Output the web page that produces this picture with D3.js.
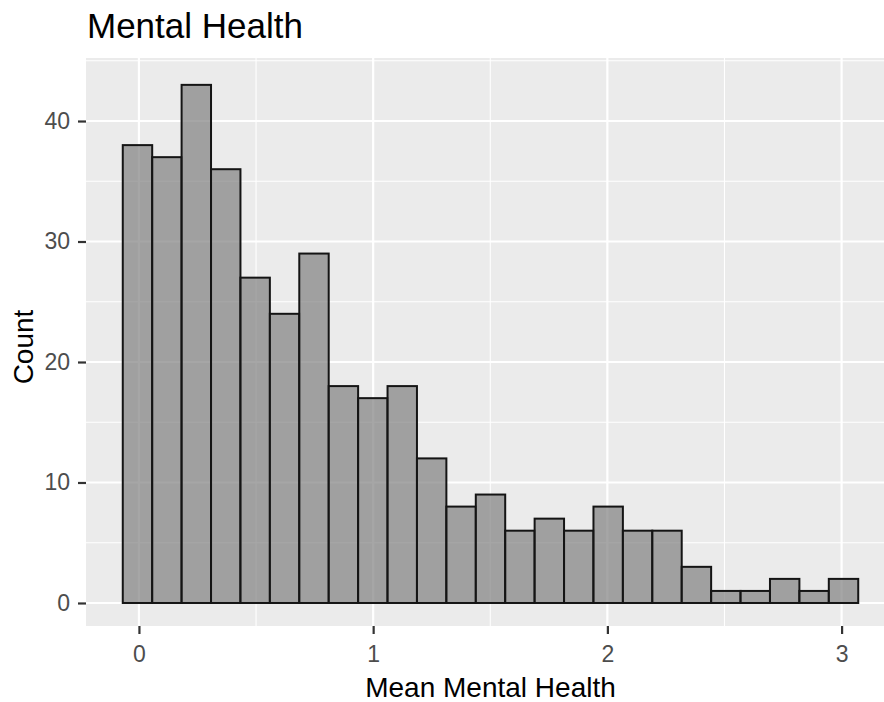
<!DOCTYPE html>
<html>
<head>
<meta charset="utf-8">
<script src="https://cdn.jsdelivr.net/npm/d3@7"></script>
<style>
  html, body { margin: 0; padding: 0; background: #fff; }
  svg { display: block; font-family: "Liberation Sans", Arial, sans-serif; }
</style>
</head>
<body>
<svg id="chart" width="884" height="702"></svg>
<script>
// ---- data ----
const title = "Mental Health";
const xLabel = "Mean Mental Health";
const yLabel = "Count";
const counts = [38, 37, 43, 36, 27, 24, 29, 18, 17, 18, 12, 8, 9, 6, 7, 6, 8, 6, 6, 3, 1, 1, 2, 1, 2];
const binStart = -0.069;
const binWidth = 0.1256;
const xTicks = [0, 1, 2, 3];
const xMinor = [0.5, 1.5, 2.5];
const yTicks = [0, 10, 20, 30, 40];
const yMinor = [5, 15, 25, 35, 45];

const bins = counts.map((c, i) => ({ x0: binStart + i * binWidth, x1: binStart + (i + 1) * binWidth, count: c }));

// ---- layout ----
const svg = d3.select("#chart");
const panel = { left: 86, right: 895, top: 58, bottom: 626 };

const x = d3.scaleLinear().domain([-0.226, 3.228]).range([panel.left, panel.right]);
const y = d3.scaleLinear().domain([-1.91, 45.23]).range([panel.bottom, panel.top]);

// panel background
svg.append("rect")
  .attr("x", panel.left).attr("y", panel.top)
  .attr("width", panel.right - panel.left).attr("height", panel.bottom - panel.top)
  .attr("fill", "#EBEBEB");

const grid = svg.append("g");
// minor grid
grid.selectAll(".vminor").data(xMinor).join("line")
  .attr("class", "vminor")
  .attr("x1", d => x(d)).attr("x2", d => x(d))
  .attr("y1", panel.top).attr("y2", panel.bottom)
  .attr("stroke", "#fff").attr("stroke-width", 1.1);
grid.selectAll(".hminor").data(yMinor).join("line")
  .attr("class", "hminor")
  .attr("y1", d => y(d)).attr("y2", d => y(d))
  .attr("x1", panel.left).attr("x2", panel.right)
  .attr("stroke", "#fff").attr("stroke-width", 1.1);
// major grid
grid.selectAll(".vmajor").data(xTicks).join("line")
  .attr("class", "vmajor")
  .attr("x1", d => x(d)).attr("x2", d => x(d))
  .attr("y1", panel.top).attr("y2", panel.bottom)
  .attr("stroke", "#fff").attr("stroke-width", 2.2);
grid.selectAll(".hmajor").data(yTicks).join("line")
  .attr("class", "hmajor")
  .attr("y1", d => y(d)).attr("y2", d => y(d))
  .attr("x1", panel.left).attr("x2", panel.right)
  .attr("stroke", "#fff").attr("stroke-width", 2.2);

// bars
svg.append("g").selectAll("rect").data(bins).join("rect")
  .attr("x", d => x(d.x0))
  .attr("width", d => x(d.x1) - x(d.x0))
  .attr("y", d => y(d.count))
  .attr("height", d => y(0) - y(d.count))
  .attr("fill", "rgba(128,128,128,0.7)")
  .attr("stroke", "#141414")
  .attr("stroke-width", 2);

// axes
const xAxis = d3.axisBottom(x).tickValues(xTicks).tickSize(8).tickPadding(12).tickFormat(d3.format("d"));
const gx = svg.append("g").attr("transform", `translate(0,${panel.bottom})`).call(xAxis);
gx.select(".domain").remove();
gx.selectAll(".tick line").attr("stroke", "#333").attr("stroke-width", 2.2);
gx.selectAll(".tick text").attr("fill", "#4D4D4D").attr("font-size", 23);

const yAxis = d3.axisLeft(y).tickValues(yTicks).tickSize(8).tickPadding(8).tickFormat(d3.format("d"));
const gy = svg.append("g").attr("transform", `translate(${panel.left},0)`).call(yAxis);
gy.select(".domain").remove();
gy.selectAll(".tick line").attr("stroke", "#333").attr("stroke-width", 2.2);
gy.selectAll(".tick text").attr("fill", "#4D4D4D").attr("font-size", 23);

// titles
svg.append("text").attr("x", 87).attr("y", 38)
  .attr("font-size", 35).attr("fill", "#000").text(title);
svg.append("text").attr("x", (panel.left + panel.right) / 2).attr("y", 697)
  .attr("text-anchor", "middle").attr("font-size", 28).attr("fill", "#000").text(xLabel);
svg.append("text")
  .attr("transform", `translate(33,${(panel.top + panel.bottom) / 2 + 5}) rotate(-90)`)
  .attr("text-anchor", "middle").attr("font-size", 28).attr("fill", "#000").text(yLabel);
</script>
</body>
</html>
